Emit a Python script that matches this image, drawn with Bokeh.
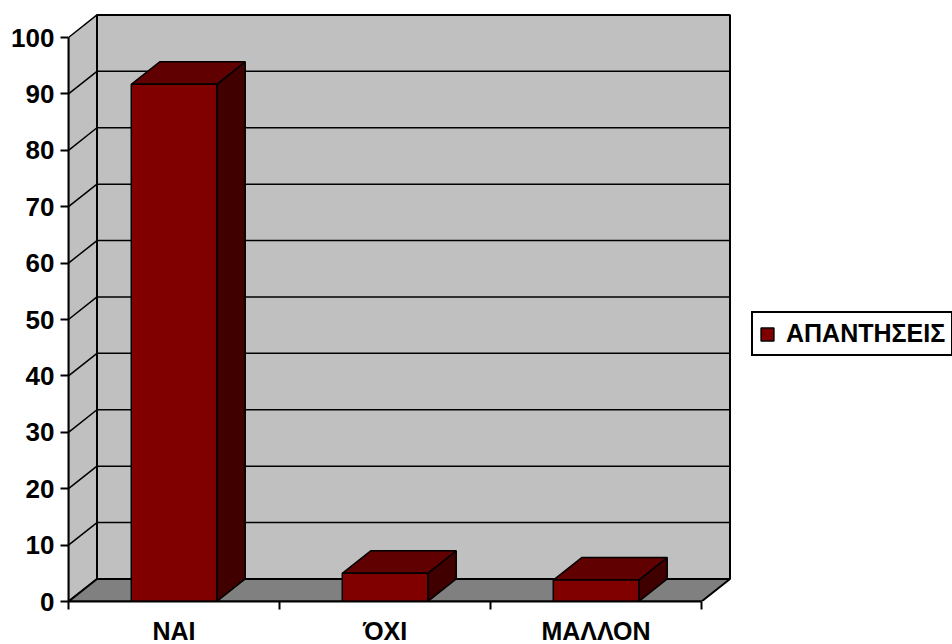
from bokeh.plotting import figure
from bokeh.models import Range1d, FixedTicker, Legend, LegendItem
from bokeh.embed import file_html
from bokeh.resources import INLINE

categories = ["ΝΑΙ", "ΌΧΙ", "ΜΑΛΛΟΝ"]
values = [91.7, 5, 3.8]
y_ticks = [0, 10, 20, 30, 40, 50, 60, 70, 80, 90, 100]
series_name = "ΑΠΑΝΤΗΣΕΙΣ"

FONT = "Liberation Sans"
DX, DY = 0.135, 4.0   # depth of the 3D box, in data units
BAR = 0.405
N = len(categories)
YMAX = y_ticks[-1]

p = figure(width=952, height=644, frame_width=663, frame_height=593,
           output_backend="svg", toolbar_location=None,
           x_range=Range1d(0, 663 / 211), y_range=Range1d(0, 593 / 5.64),
           min_border_left=68, min_border_right=0, min_border_top=8, min_border_bottom=0,
           background_fill_color="white", outline_line_color=None)
p.xgrid.visible = False
p.ygrid.visible = False

# walls and floor
p.patch([0, DX, DX, 0], [0, DY, YMAX + DY, YMAX], fill_color="#c0c0c0", line_color="black", line_width=1.5)
p.patch([DX, N + DX, N + DX, DX], [DY, DY, YMAX + DY, YMAX + DY], fill_color="#c0c0c0", line_color="black", line_width=2)
p.patch([0, N, N + DX, DX], [0, 0, DY, DY], fill_color="#808080", line_color="black", line_width=2)

# gridlines
for v in y_ticks[1:-1]:
    p.line([0, DX, N + DX], [v, v + DY, v + DY], line_color="black", line_width=1.5)

# 3D bars
front = None
for i, v in enumerate(values):
    l = i + 0.5 - BAR / 2
    r = i + 0.5 + BAR / 2
    p.patch([r, r + DX, r + DX, r], [0, DY, v + DY, v], fill_color="#400000", line_color="black", line_width=1.5)
    p.patch([l, r, r + DX, l + DX], [v, v, v + DY, v + DY], fill_color="#600000", line_color="black", line_width=1.5)
    q = p.quad(left=[l], right=[r], bottom=[0], top=[v], fill_color="#800000", line_color="black", line_width=1.5)
    if front is None:
        front = q

# axes
ya = p.yaxis[0]
ya.ticker = FixedTicker(ticks=y_ticks)
ya.bounds = (0, YMAX)
ya.axis_line_color = "black"
ya.axis_line_width = 2
ya.major_tick_in = 0
ya.major_tick_out = 8
ya.major_tick_line_width = 2
ya.major_tick_line_color = "black"
ya.minor_tick_line_color = None
ya.major_label_standoff = 6
ya.major_label_text_font = FONT
ya.major_label_text_font_style = "bold"
ya.major_label_text_font_size = "26px"
ya.major_label_text_color = "black"

xa = p.xaxis[0]
xa.ticker = FixedTicker(ticks=[i + 0.5 for i in range(N)], minor_ticks=list(range(N + 1)))
xa.major_label_overrides = {i + 0.5: c for i, c in enumerate(categories)}
xa.bounds = (0, N)
xa.axis_line_color = "black"
xa.axis_line_width = 2
xa.major_tick_line_color = None
xa.major_tick_in = 0
xa.major_tick_out = 0
xa.minor_tick_in = 0
xa.minor_tick_out = 8
xa.minor_tick_line_width = 2
xa.minor_tick_line_color = "black"
xa.major_label_standoff = 7
xa.major_label_text_font = FONT
xa.major_label_text_font_style = "bold"
xa.major_label_text_font_size = "25px"
xa.major_label_text_color = "black"

# legend
legend = Legend(items=[LegendItem(label=series_name, renderers=[front])],
                location=(20, 245), orientation="vertical",
                glyph_width=16, glyph_height=16,
                label_text_font=FONT, label_text_font_style="bold",
                label_text_font_size="25px", label_text_color="black",
                border_line_color="black", border_line_width=2, border_line_alpha=1,
                background_fill_color="white", background_fill_alpha=1,
                padding=6, margin=0, spacing=0, label_standoff=11)
p.add_layout(legend, "right")

open("out.html", "w").write(file_html(p, INLINE))
